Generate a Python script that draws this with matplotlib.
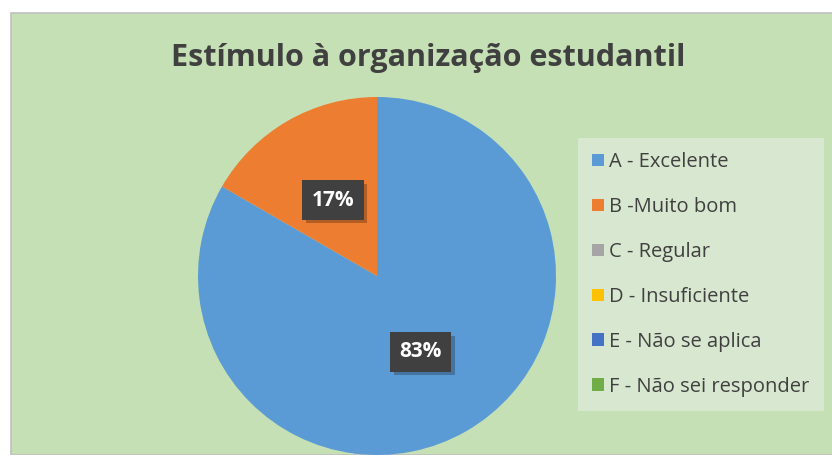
import matplotlib
matplotlib.use("Agg")
from matplotlib import pyplot as plt
from matplotlib.patches import Rectangle
import matplotlib.patheffects as pe

# data
categories = ["A - Excelente", "B -Muito bom", "C - Regular", "D - Insuficiente",
              "E - Não se aplica", "F - Não sei responder"]
counts = [5, 1, 0, 0, 0, 0]
colors = ["#5B9BD5", "#ED7D31", "#A5A5A5", "#FFC000", "#4472C4", "#70AD47"]
title = "Estímulo à organização estudantil"

plt.rcParams['font.family'] = ['Open Sans', 'DejaVu Sans']

W, H = 832, 455
fig = plt.figure(figsize=(W/100, H/100), dpi=100)
fig.patch.set_facecolor("white")

# chart area background
bg = Rectangle((11/W, 0), 1, (H-13)/H, transform=fig.transFigure,
               facecolor="#C5E0B4", edgecolor="#BFBFBF", lw=1.2, zorder=-5)
fig.add_artist(bg)

fig.text(428/W, 1-58/H, title, ha="center", va="center", fontsize=22,
         fontweight="bold", color="#404040")

ax = fig.add_axes([198/W, 0, 358/W, 358/H])
ax.set_facecolor("none")

def fmt(p):
    return "%d%%" % round(p) if p > 0 else ""

wedges, texts, autotexts = ax.pie(counts, colors=colors, startangle=90, counterclock=False,
                                  autopct=fmt, pctdistance=0.49, radius=1,
                                  wedgeprops=dict(linewidth=0))
for t in autotexts:
    t.set_color("white")
    t.set_fontsize(15)
    t.set_fontweight("bold")
    t.set_bbox(dict(boxstyle="square,pad=0.45", facecolor="#404040", edgecolor="none"))
    t.get_bbox_patch().set_path_effects(
        [pe.SimplePatchShadow(offset=(2.5, -2.5), shadow_rgbFace="#000000", alpha=0.25),
         pe.Normal()])
ax.set_xlim(-1, 1)
ax.set_ylim(-1, 1)
ax.axis("off")

handles = [Rectangle((0, 0), 1, 1, facecolor=c, edgecolor="none") for c in colors]
leg = fig.legend(handles, categories, loc="upper left",
                 bbox_to_anchor=(578/W, 1-138/H), frameon=True, fancybox=False,
                 fontsize=14.5, labelspacing=1.24, handlelength=0.6, handleheight=0.6,
                 handletextpad=0.25, borderpad=0.7, borderaxespad=0)
leg.get_frame().set_facecolor("#D8E7CF")
leg.get_frame().set_edgecolor("none")
leg.get_frame().set_alpha(1)
for t in leg.get_texts():
    t.set_color("#404040")

fig.savefig("out.png", dpi=100, facecolor=fig.get_facecolor())
